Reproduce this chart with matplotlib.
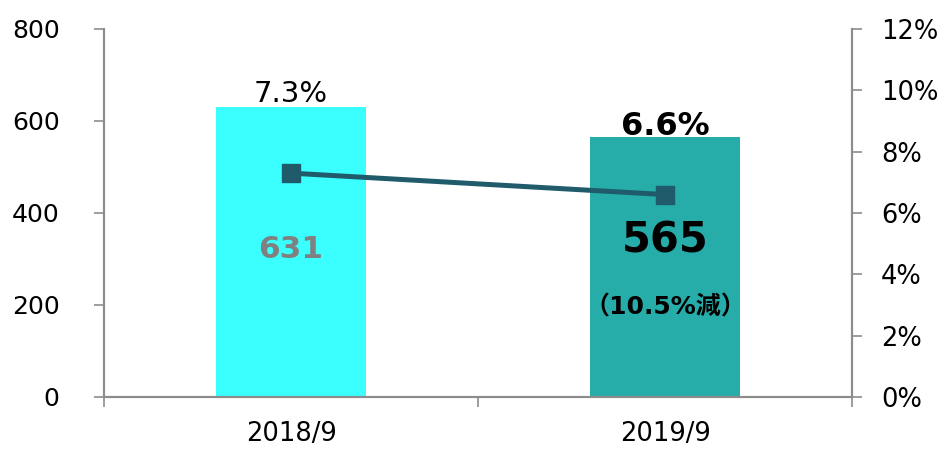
import numpy as np
import matplotlib.pyplot as plt

plt.rcParams['font.family'] = ['DejaVu Sans', 'Noto Sans CJK JP']

categories = ["2018/9", "2019/9"]
counts = [631, 565]
rates = [7.3, 6.6]
bar_colors = ["#3BFFFF", "#26ADA9"]
line_color = "#1F5B6B"
axis_grey = "#8C8C8C"

fig = plt.figure(figsize=(9.47, 4.5), dpi=100)
ax = fig.add_axes([104 / 947, 1 - 397 / 450, 748 / 947, 368 / 450])
ax2 = ax.twinx()

x = np.arange(len(categories))
ax.bar(x, counts, width=0.4, color=bar_colors, zorder=1)
ax2.plot(x, rates, color=line_color, lw=3.6, marker="s", markersize=13, zorder=3)

ax.set_xlim(-0.5, 1.5)
ax.set_ylim(0, 800)
ax.set_yticks(range(0, 801, 200))
ax2.set_ylim(0, 12)
ax2.set_yticks(range(0, 13, 2))
ax2.set_yticklabels([f"{v}%" for v in range(0, 13, 2)])

ax.set_xticks(x)
ax.set_xticklabels(categories, fontsize=18.5)
ax.set_xticks([-0.5, 0.5, 1.5], minor=True)
ax.tick_params(axis="x", which="major", length=0, pad=17)
ax.tick_params(axis="x", which="minor", length=7, width=1.2, color=axis_grey)
ax.tick_params(axis="y", length=7, width=1.2, color=axis_grey, labelsize=18, pad=25)
ax2.tick_params(axis="y", length=7, width=1.2, color=axis_grey, labelsize=18.5, pad=14)

for a in (ax, ax2):
    a.spines["top"].set_visible(False)
    for s in ("left", "right", "bottom"):
        a.spines[s].set_color(axis_grey)
        a.spines[s].set_linewidth(1.5)
ax2.set_zorder(ax.get_zorder() + 1)
ax2.patch.set_visible(False)

# rate labels above bars
ax.text(x[0], counts[0] - 2, f"{rates[0]}%", ha="center", va="bottom", fontsize=21)
ax.text(x[1], counts[1] - 10, f"{rates[1]}%", ha="center", va="bottom",
        fontsize=23, fontweight="bold")

# counts inside bars
ax.text(x[0], 320, str(counts[0]), ha="center", va="center", fontsize=22.5,
        fontweight="bold", color="#808080")
ax.text(x[1], 340, str(counts[1]), ha="center", va="center", fontsize=30,
        fontweight="bold", color="black")
ax.text(x[1], 195, "（10.5%減）", ha="center", va="center", fontsize=18,
        fontweight="bold", color="black")

fig.savefig("out.png", dpi=100)
